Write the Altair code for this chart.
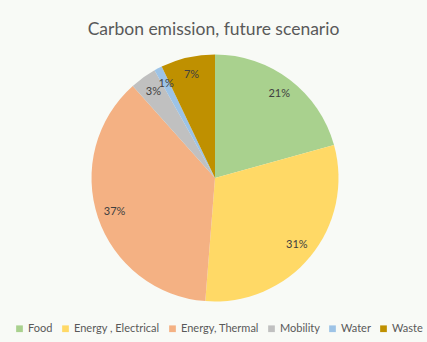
import altair as alt
import pandas as pd

categories = ["Food", "Energy , Electrical", "Energy, Thermal", "Mobility", "Water", "Waste"]
values = [20.7, 30.55, 37.15, 3.45, 1.05, 7.1]
colors = ["#A9D18E", "#FFD966", "#F4B183", "#C0C0C0", "#9DC3E6", "#BF9000"]

df = pd.DataFrame({"category": categories, "value": values, "order": list(range(len(categories)))})

FONT = "Lato"
CX, CY, R = 215, 178, 123.5

base = alt.Chart(df).transform_joinaggregate(
    total="sum(value)"
).transform_calculate(
    pct="datum.value / datum.total"
)

color = alt.Color(
    "category:N",
    scale=alt.Scale(domain=categories, range=colors),
    sort=categories,
    legend=alt.Legend(
        title=None,
        orient="none",
        direction="horizontal",
        columns=6,
        legendX=14,
        legendY=323,
        padding=0,
        symbolType="square",
        symbolSize=45,
        symbolStrokeWidth=0,
        labelFont=FONT,
        labelFontSize=11,
        labelColor="#595959",
        labelOffset=3,
        columnPadding=7,
    ),
)

arcs = base.mark_arc(outerRadius=R, strokeWidth=0).encode(
    theta=alt.Theta("value:Q", stack=True),
    color=color,
    order=alt.Order("order:Q"),
    x=alt.value(CX),
    y=alt.value(CY),
)

labels = base.mark_text(radius=106, font=FONT, fontSize=11, color="#404040").encode(
    theta=alt.Theta("value:Q", stack=True),
    order=alt.Order("order:Q"),
    text=alt.Text("pct:Q", format=".0%"),
    x=alt.value(CX),
    y=alt.value(CY),
)

chart = alt.layer(arcs, labels).properties(
    width=427,
    height=342,
    autosize=alt.AutoSizeParams(type="none"),
    padding=0,
    background="#F8FAF6",
    title=alt.TitleParams(
        "Carbon emission, future scenario",
        font=FONT,
        fontSize=17.5,
        fontWeight="normal",
        color="#595959",
        anchor="middle",
        offset=-38,
    ),
).configure_view(strokeWidth=0)

chart.save("out.html", embed_options={"renderer": "svg", "actions": False})
